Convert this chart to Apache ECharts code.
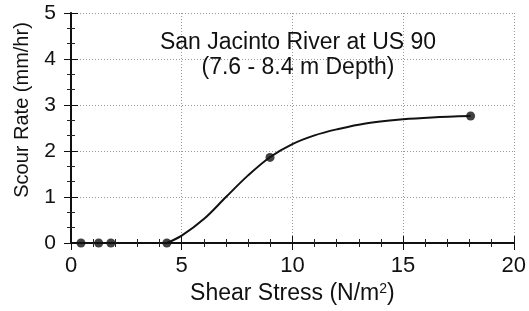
<!DOCTYPE html>
<html>
<head>
<meta charset="utf-8">
<script src="https://cdn.jsdelivr.net/npm/echarts@6/dist/echarts.min.js"></script>
<style>
  html, body { margin: 0; padding: 0; background: #fff; }
  #chart { width: 529px; height: 311px; }
</style>
</head>
<body>
<div id="chart"></div>
<script>
// measured points
const shearStress = [0.45, 1.25, 1.8, 4.33, 8.99, 18.05]
const scourRate = [0, 0, 0, 0, 1.86, 2.76]
// fitted curve
const fitStress = [4.33, 5, 6, 7, 8, 9, 10, 11, 12, 13.3, 15, 16.3, 18.05]
const fitRate = [0, 0.16, 0.52, 1.0, 1.47, 1.87, 2.15, 2.34, 2.47, 2.6, 2.69, 2.73, 2.76]
// ticks
const xTicks = [0, 5, 10, 15, 20]
const yTicks = [0, 1, 2, 3, 4, 5]

const FONT = 'Liberation Sans, Arial, sans-serif'

// frame axes: black line, ticks pointing into the plot
const frameAxis = {
  axisLine: { show: true, lineStyle: { color: '#111', width: 2 } },
  axisTick: { show: true, inside: true, length: 7, lineStyle: { color: '#111', width: 1 } },
  minorTick: { show: true, length: 4, lineStyle: { color: '#222', width: 1 } }
}

const chart = echarts.init(document.getElementById('chart'), null, { renderer: 'canvas' })

chart.setOption({
  animation: false,
  backgroundColor: '#fff',
  textStyle: { fontFamily: FONT },
  grid: { left: 71, right: 13, top: 13, bottom: 68 },
  title: {
    text: 'San Jacinto River at US 90\n(7.6 - 8.4 m Depth)',
    left: 298,
    top: 30,
    padding: 0,
    textAlign: 'center',
    textStyle: { fontFamily: FONT, fontSize: 23, fontWeight: 'normal', color: '#111', lineHeight: 25 }
  },
  xAxis: [
    {
      type: 'value',
      min: xTicks[0],
      max: xTicks[xTicks.length - 1],
      interval: 5,
      name: 'Shear Stress (N/m{sup|2})',
      nameLocation: 'middle',
      nameGap: 39,
      nameTextStyle: {
        fontFamily: FONT, fontSize: 23, color: '#111',
        rich: { sup: { fontSize: 14, verticalAlign: 'top', padding: [0, 0, 9, 0], fontFamily: FONT, color: '#111' } }
      },
      ...frameAxis,
      minorTick: { ...frameAxis.minorTick, splitNumber: 5 },
      axisLabel: { fontFamily: FONT, fontSize: 22, color: '#111', margin: 12 },
      splitLine: { show: true, lineStyle: { color: '#999', type: [1, 2], width: 1 } }
    },
    {
      type: 'value',
      position: 'top',
      min: xTicks[0],
      max: xTicks[xTicks.length - 1],
      interval: 5,
      ...frameAxis,
      axisLine: { show: true, lineStyle: { color: '#111', width: 1.5 } },
      minorTick: { ...frameAxis.minorTick, splitNumber: 5 },
      axisLabel: { show: false },
      splitLine: { show: false }
    }
  ],
  yAxis: [
    {
      type: 'value',
      min: yTicks[0],
      max: yTicks[yTicks.length - 1],
      interval: 1,
      ...frameAxis,
      minorTick: { ...frameAxis.minorTick, splitNumber: 3 },
      axisLabel: { fontFamily: FONT, fontSize: 21, color: '#111', margin: 15 },
      splitLine: { show: true, lineStyle: { color: '#999', type: [1, 2], width: 1 } }
    },
    {
      type: 'value',
      position: 'right',
      min: yTicks[0],
      max: yTicks[yTicks.length - 1],
      interval: 1,
      ...frameAxis,
      axisLine: { show: true, lineStyle: { color: '#111', width: 1.5 } },
      minorTick: { ...frameAxis.minorTick, splitNumber: 3 },
      axisLabel: { show: false },
      splitLine: { show: false }
    }
  ],
  // y axis title sits above the middle of the axis, so place it by hand
  graphic: [
    {
      type: 'text',
      x: 22,
      y: 110,
      rotation: Math.PI / 2,
      style: {
        text: 'Scour Rate (mm/hr)',
        fontFamily: FONT,
        fontSize: 20,
        fill: '#111',
        align: 'center',
        verticalAlign: 'middle'
      }
    }
  ],
  series: [
    {
      type: 'line',
      data: fitStress.map((x, i) => [x, fitRate[i]]),
      smooth: 0.35,
      showSymbol: false,
      lineStyle: { color: '#111', width: 2 },
      z: 3
    },
    {
      type: 'scatter',
      data: shearStress.map((x, i) => [x, scourRate[i]]),
      symbol: 'circle',
      symbolSize: 9,
      clip: false,
      itemStyle: { color: '#111' },
      z: 4
    }
  ]
})
</script>
</body>
</html>
